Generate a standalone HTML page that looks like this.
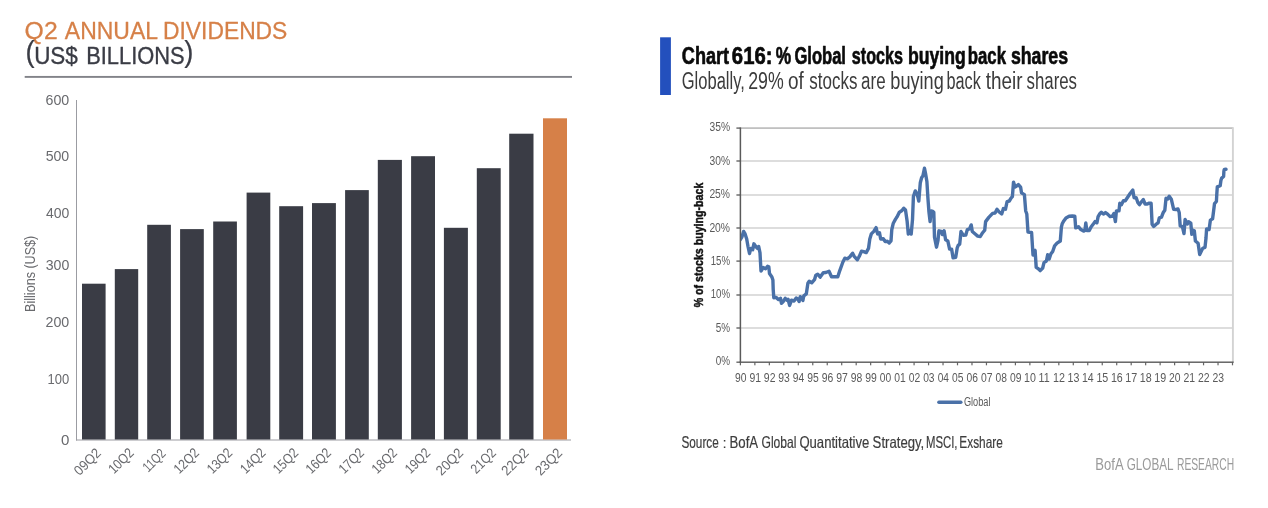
<!DOCTYPE html>
<html lang="en">
<head>
<meta charset="utf-8">
<title>Q2 Annual Dividends and Global Buybacks</title>
<style>
html,body{margin:0;padding:0;background:#ffffff;}
body{width:1268px;height:508px;overflow:hidden;}
svg{display:block;font-family:"Liberation Sans",sans-serif;}
</style>
</head>
<body>
<svg width="1268" height="508" viewBox="0 0 1268 508">
<rect x="0" y="0" width="1268" height="508" fill="#ffffff"/>
<text font-size="24.6" fill="#d68048" stroke="#d68048" stroke-width="0.3" stroke-linejoin="round"><tspan x="24.63" y="39" textLength="33.02" lengthAdjust="spacingAndGlyphs">Q2</tspan> <tspan x="64.86" y="39" textLength="92.3" lengthAdjust="spacingAndGlyphs">ANNUAL</tspan> <tspan x="163.03" y="39" textLength="124.32" lengthAdjust="spacingAndGlyphs">DIVIDENDS</tspan></text>
<text font-size="24.2" fill="#3a3c45" stroke="#3a3c45" stroke-width="0.35" stroke-linejoin="round"><tspan x="25.59" y="62.2" textLength="9.17" lengthAdjust="spacingAndGlyphs" font-size="29" stroke-width="0.2">(</tspan><tspan x="34.17" y="63.7" textLength="43.69" lengthAdjust="spacingAndGlyphs">US$</tspan> <tspan x="86.21" y="63.7" textLength="98.4" lengthAdjust="spacingAndGlyphs">BILLIONS</tspan><tspan x="184.34" y="62.2" textLength="9.17" lengthAdjust="spacingAndGlyphs" font-size="29" stroke-width="0.2">)</tspan></text>
<rect x="24.7" y="75.95" width="547.3" height="1.9" fill="#828389"/>
<rect x="76" y="100.0" width="1" height="340.5" fill="#9b9ca2"/>
<rect x="76" y="439.5" width="495" height="1" fill="#9b9ca2"/>
<text transform="translate(60.91 444.7) scale(1.0758 1.0000)" font-size="14" fill="#696a6e">0</text>
<text transform="translate(47.51 383.6) scale(0.9289 1.0000)" font-size="14" fill="#696a6e">100</text>
<text transform="translate(45.48 326.9) scale(1.0178 1.0000)" font-size="14" fill="#696a6e">200</text>
<text transform="translate(45.66 270.3) scale(1.0100 1.0000)" font-size="14" fill="#696a6e">300</text>
<text transform="translate(45.88 218.3) scale(1.0004 1.0000)" font-size="14" fill="#696a6e">400</text>
<text transform="translate(45.63 161.1) scale(1.0112 1.0000)" font-size="14" fill="#696a6e">500</text>
<text transform="translate(45.48 104.8) scale(1.0181 1.0000)" font-size="14" fill="#696a6e">600</text>
<text transform="translate(35.1 310.9) rotate(-90) translate(-1.03 0) scale(0.8999 1)" font-size="14" fill="#696a6e">Billions (US$)</text>
<rect x="82.0" y="283.7" width="23.6" height="155.8" fill="#3a3c45"/>
<rect x="114.8" y="269.1" width="23.4" height="170.4" fill="#3a3c45"/>
<rect x="147.2" y="224.8" width="23.7" height="214.7" fill="#3a3c45"/>
<rect x="180.1" y="229.1" width="23.7" height="210.4" fill="#3a3c45"/>
<rect x="213.2" y="221.5" width="23.7" height="218.0" fill="#3a3c45"/>
<rect x="246.6" y="192.6" width="23.7" height="246.9" fill="#3a3c45"/>
<rect x="279.2" y="206.2" width="23.9" height="233.3" fill="#3a3c45"/>
<rect x="312.0" y="203.1" width="23.9" height="236.4" fill="#3a3c45"/>
<rect x="345.1" y="190.1" width="23.7" height="249.4" fill="#3a3c45"/>
<rect x="377.8" y="159.9" width="24.1" height="279.6" fill="#3a3c45"/>
<rect x="411.1" y="156.2" width="23.9" height="283.3" fill="#3a3c45"/>
<rect x="443.9" y="227.8" width="24.0" height="211.7" fill="#3a3c45"/>
<rect x="476.8" y="168.2" width="23.9" height="271.3" fill="#3a3c45"/>
<rect x="509.2" y="133.7" width="24.3" height="305.8" fill="#3a3c45"/>
<rect x="543.0" y="118.3" width="24.0" height="321.2" fill="#d68048"/>
<text transform="translate(101.5 454.3) rotate(-45) translate(-31.01 0) scale(0.9243 1)" font-size="14" fill="#696a6e">09Q2</text>
<text transform="translate(134.2 454.3) rotate(-45) translate(-28.71 0) scale(0.8560 1)" font-size="14" fill="#696a6e">10Q2</text>
<text transform="translate(166.75 454.3) rotate(-45) translate(-26.03 0) scale(0.7759 1)" font-size="14" fill="#696a6e">11Q2</text>
<text transform="translate(199.65 454.3) rotate(-45) translate(-28.71 0) scale(0.8560 1)" font-size="14" fill="#696a6e">12Q2</text>
<text transform="translate(232.75 454.3) rotate(-45) translate(-28.71 0) scale(0.8560 1)" font-size="14" fill="#696a6e">13Q2</text>
<text transform="translate(266.15 454.3) rotate(-45) translate(-28.71 0) scale(0.8560 1)" font-size="14" fill="#696a6e">14Q2</text>
<text transform="translate(298.85 454.3) rotate(-45) translate(-28.71 0) scale(0.8560 1)" font-size="14" fill="#696a6e">15Q2</text>
<text transform="translate(331.65 454.3) rotate(-45) translate(-28.71 0) scale(0.8560 1)" font-size="14" fill="#696a6e">16Q2</text>
<text transform="translate(364.65 454.3) rotate(-45) translate(-28.71 0) scale(0.8560 1)" font-size="14" fill="#696a6e">17Q2</text>
<text transform="translate(397.55 454.3) rotate(-45) translate(-28.71 0) scale(0.8560 1)" font-size="14" fill="#696a6e">18Q2</text>
<text transform="translate(430.75 454.3) rotate(-45) translate(-28.71 0) scale(0.8560 1)" font-size="14" fill="#696a6e">19Q2</text>
<text transform="translate(463.6 454.3) rotate(-45) translate(-31.15 0) scale(0.9287 1)" font-size="14" fill="#696a6e">20Q2</text>
<text transform="translate(496.45 454.3) rotate(-45) translate(-28.4 0) scale(0.8465 1)" font-size="14" fill="#696a6e">21Q2</text>
<text transform="translate(529.05 454.3) rotate(-45) translate(-31.15 0) scale(0.9287 1)" font-size="14" fill="#696a6e">22Q2</text>
<text transform="translate(562.7 454.3) rotate(-45) translate(-31.15 0) scale(0.9287 1)" font-size="14" fill="#696a6e">23Q2</text>
<rect x="660.1" y="37.3" width="10.8" height="57.7" fill="#2350bd"/>
<text font-size="23" fill="#0a0a0a" font-weight="bold" stroke="#0a0a0a" stroke-width="0.65" stroke-linejoin="round"><tspan x="681.86" y="63.8" textLength="47.26" lengthAdjust="spacingAndGlyphs">Chart</tspan> <tspan x="731.86" y="63.8" textLength="40.59" lengthAdjust="spacingAndGlyphs">616:</tspan> <tspan x="775.77" y="63.8" textLength="15.39" lengthAdjust="spacingAndGlyphs">%</tspan> <tspan x="794.42" y="63.8" textLength="51.55" lengthAdjust="spacingAndGlyphs">Global</tspan> <tspan x="851.83" y="63.8" textLength="51.03" lengthAdjust="spacingAndGlyphs">stocks</tspan> <tspan x="907.94" y="63.8" textLength="57.74" lengthAdjust="spacingAndGlyphs">buying</tspan> <tspan x="967.8" y="63.8" textLength="38.19" lengthAdjust="spacingAndGlyphs">back</tspan> <tspan x="1010.88" y="63.8" textLength="57.15" lengthAdjust="spacingAndGlyphs">shares</tspan></text>
<text font-size="23" fill="#3c3c3c"><tspan x="681.79" y="88.7" textLength="62.97" lengthAdjust="spacingAndGlyphs">Globally,</tspan> <tspan x="748.21" y="88.7" textLength="35.53" lengthAdjust="spacingAndGlyphs">29%</tspan> <tspan x="788.01" y="88.7" textLength="15.77" lengthAdjust="spacingAndGlyphs">of</tspan> <tspan x="809.33" y="88.7" textLength="48.09" lengthAdjust="spacingAndGlyphs">stocks</tspan> <tspan x="861.08" y="88.7" textLength="24.47" lengthAdjust="spacingAndGlyphs">are</tspan> <tspan x="890.33" y="88.7" textLength="53.44" lengthAdjust="spacingAndGlyphs">buying</tspan> <tspan x="946.55" y="88.7" textLength="34.32" lengthAdjust="spacingAndGlyphs">back</tspan> <tspan x="985.71" y="88.7" textLength="36.8" lengthAdjust="spacingAndGlyphs">their</tspan> <tspan x="1026.53" y="88.7" textLength="50.48" lengthAdjust="spacingAndGlyphs">shares</tspan></text>
<rect x="740.4" y="127.25" width="492.5" height="1.7" fill="#bdbdbd"/>
<rect x="740.4" y="160.15" width="492.5" height="1.7" fill="#d8d8d8"/>
<rect x="740.4" y="194.15" width="492.5" height="1.7" fill="#d8d8d8"/>
<rect x="740.4" y="227.15" width="492.5" height="1.7" fill="#d8d8d8"/>
<rect x="740.4" y="260.25" width="492.5" height="1.7" fill="#d8d8d8"/>
<rect x="740.4" y="294.15" width="492.5" height="1.7" fill="#d8d8d8"/>
<rect x="740.4" y="327.15" width="492.5" height="1.7" fill="#d8d8d8"/>
<rect x="1231.95" y="127.2" width="1.9" height="235" fill="#d3d3d3"/>
<rect x="736.4" y="127.4" width="4" height="1.4" fill="#666"/>
<text transform="translate(709.51 131) scale(0.7901 1.0000)" font-size="13" fill="#5a5a5a">35%</text>
<rect x="736.4" y="160.3" width="4" height="1.4" fill="#666"/>
<text transform="translate(709.51 164.6) scale(0.7901 1.0000)" font-size="13" fill="#5a5a5a">30%</text>
<rect x="736.4" y="194.3" width="4" height="1.4" fill="#666"/>
<text transform="translate(709.38 197.9) scale(0.7951 1.0000)" font-size="13" fill="#5a5a5a">25%</text>
<rect x="736.4" y="227.3" width="4" height="1.4" fill="#666"/>
<text transform="translate(709.38 231.9) scale(0.7951 1.0000)" font-size="13" fill="#5a5a5a">20%</text>
<rect x="736.4" y="260.4" width="4" height="1.4" fill="#666"/>
<text transform="translate(710.66 264.8) scale(0.7449 1.0000)" font-size="13" fill="#5a5a5a">15%</text>
<rect x="736.4" y="294.3" width="4" height="1.4" fill="#666"/>
<text transform="translate(710.66 297.9) scale(0.7449 1.0000)" font-size="13" fill="#5a5a5a">10%</text>
<rect x="736.4" y="327.3" width="4" height="1.4" fill="#666"/>
<text transform="translate(715.7 331.9) scale(0.7638 1.0000)" font-size="13" fill="#5a5a5a">5%</text>
<rect x="736.4" y="361.5" width="4" height="1.4" fill="#666"/>
<text transform="translate(715.71 365.1) scale(0.7633 1.0000)" font-size="13" fill="#5a5a5a">0%</text>
<rect x="739.8" y="362.2" width="1.2" height="3.1" fill="#666"/>
<rect x="754.27" y="362.2" width="1.2" height="3.1" fill="#666"/>
<rect x="768.75" y="362.2" width="1.2" height="3.1" fill="#666"/>
<rect x="783.22" y="362.2" width="1.2" height="3.1" fill="#666"/>
<rect x="797.69" y="362.2" width="1.2" height="3.1" fill="#666"/>
<rect x="812.17" y="362.2" width="1.2" height="3.1" fill="#666"/>
<rect x="826.64" y="362.2" width="1.2" height="3.1" fill="#666"/>
<rect x="841.11" y="362.2" width="1.2" height="3.1" fill="#666"/>
<rect x="855.59" y="362.2" width="1.2" height="3.1" fill="#666"/>
<rect x="870.06" y="362.2" width="1.2" height="3.1" fill="#666"/>
<rect x="884.54" y="362.2" width="1.2" height="3.1" fill="#666"/>
<rect x="899.01" y="362.2" width="1.2" height="3.1" fill="#666"/>
<rect x="913.48" y="362.2" width="1.2" height="3.1" fill="#666"/>
<rect x="927.96" y="362.2" width="1.2" height="3.1" fill="#666"/>
<rect x="942.43" y="362.2" width="1.2" height="3.1" fill="#666"/>
<rect x="956.9" y="362.2" width="1.2" height="3.1" fill="#666"/>
<rect x="971.38" y="362.2" width="1.2" height="3.1" fill="#666"/>
<rect x="985.85" y="362.2" width="1.2" height="3.1" fill="#666"/>
<rect x="1000.32" y="362.2" width="1.2" height="3.1" fill="#666"/>
<rect x="1014.8" y="362.2" width="1.2" height="3.1" fill="#666"/>
<rect x="1029.27" y="362.2" width="1.2" height="3.1" fill="#666"/>
<rect x="1043.74" y="362.2" width="1.2" height="3.1" fill="#666"/>
<rect x="1058.22" y="362.2" width="1.2" height="3.1" fill="#666"/>
<rect x="1072.69" y="362.2" width="1.2" height="3.1" fill="#666"/>
<rect x="1087.16" y="362.2" width="1.2" height="3.1" fill="#666"/>
<rect x="1101.64" y="362.2" width="1.2" height="3.1" fill="#666"/>
<rect x="1116.11" y="362.2" width="1.2" height="3.1" fill="#666"/>
<rect x="1130.59" y="362.2" width="1.2" height="3.1" fill="#666"/>
<rect x="1145.06" y="362.2" width="1.2" height="3.1" fill="#666"/>
<rect x="1159.53" y="362.2" width="1.2" height="3.1" fill="#666"/>
<rect x="1174.01" y="362.2" width="1.2" height="3.1" fill="#666"/>
<rect x="1188.48" y="362.2" width="1.2" height="3.1" fill="#666"/>
<rect x="1202.95" y="362.2" width="1.2" height="3.1" fill="#666"/>
<rect x="1217.43" y="362.2" width="1.2" height="3.1" fill="#666"/>
<rect x="1231.9" y="362.2" width="1.2" height="3.1" fill="#666"/>
<text transform="translate(734.92 382) scale(0.7765 1.0000)" font-size="13.3" fill="#5a5a5a">90</text>
<text transform="translate(749.38 382) scale(0.7840 1.0000)" font-size="13.3" fill="#5a5a5a">91</text>
<text transform="translate(763.86 382) scale(0.7851 1.0000)" font-size="13.3" fill="#5a5a5a">92</text>
<text transform="translate(778.33 382) scale(0.7802 1.0000)" font-size="13.3" fill="#5a5a5a">93</text>
<text transform="translate(792.81 382) scale(0.7692 1.0000)" font-size="13.3" fill="#5a5a5a">94</text>
<text transform="translate(807.28 382) scale(0.7787 1.0000)" font-size="13.3" fill="#5a5a5a">95</text>
<text transform="translate(821.75 382) scale(0.7802 1.0000)" font-size="13.3" fill="#5a5a5a">96</text>
<text transform="translate(836.23 382) scale(0.7851 1.0000)" font-size="13.3" fill="#5a5a5a">97</text>
<text transform="translate(850.7 382) scale(0.7799 1.0000)" font-size="13.3" fill="#5a5a5a">98</text>
<text transform="translate(865.17 382) scale(0.7828 1.0000)" font-size="13.3" fill="#5a5a5a">99</text>
<text transform="translate(879.73 382) scale(0.7707 1.0000)" font-size="13.3" fill="#5a5a5a">00</text>
<text transform="translate(894.2 382) scale(0.7780 1.0000)" font-size="13.3" fill="#5a5a5a">01</text>
<text transform="translate(908.68 382) scale(0.7791 1.0000)" font-size="13.3" fill="#5a5a5a">02</text>
<text transform="translate(923.15 382) scale(0.7743 1.0000)" font-size="13.3" fill="#5a5a5a">03</text>
<text transform="translate(937.63 382) scale(0.7634 1.0000)" font-size="13.3" fill="#5a5a5a">04</text>
<text transform="translate(952.1 382) scale(0.7728 1.0000)" font-size="13.3" fill="#5a5a5a">05</text>
<text transform="translate(966.57 382) scale(0.7743 1.0000)" font-size="13.3" fill="#5a5a5a">06</text>
<text transform="translate(981.05 382) scale(0.7791 1.0000)" font-size="13.3" fill="#5a5a5a">07</text>
<text transform="translate(995.52 382) scale(0.7739 1.0000)" font-size="13.3" fill="#5a5a5a">08</text>
<text transform="translate(1009.99 382) scale(0.7769 1.0000)" font-size="13.3" fill="#5a5a5a">09</text>
<text transform="translate(1024.06 382) scale(0.7993 1.0000)" font-size="13.3" fill="#5a5a5a">10</text>
<text transform="translate(1038.53 382) scale(0.8072 1.0000)" font-size="13.3" fill="#5a5a5a">11</text>
<text transform="translate(1053 382) scale(0.8084 1.0000)" font-size="13.3" fill="#5a5a5a">12</text>
<text transform="translate(1067.48 382) scale(0.8033 1.0000)" font-size="13.3" fill="#5a5a5a">13</text>
<text transform="translate(1081.96 382) scale(0.7916 1.0000)" font-size="13.3" fill="#5a5a5a">14</text>
<text transform="translate(1096.43 382) scale(0.8017 1.0000)" font-size="13.3" fill="#5a5a5a">15</text>
<text transform="translate(1110.9 382) scale(0.8033 1.0000)" font-size="13.3" fill="#5a5a5a">16</text>
<text transform="translate(1125.37 382) scale(0.8084 1.0000)" font-size="13.3" fill="#5a5a5a">17</text>
<text transform="translate(1139.85 382) scale(0.8029 1.0000)" font-size="13.3" fill="#5a5a5a">18</text>
<text transform="translate(1154.32 382) scale(0.8060 1.0000)" font-size="13.3" fill="#5a5a5a">19</text>
<text transform="translate(1169.08 382) scale(0.7791 1.0000)" font-size="13.3" fill="#5a5a5a">20</text>
<text transform="translate(1183.55 382) scale(0.7866 1.0000)" font-size="13.3" fill="#5a5a5a">21</text>
<text transform="translate(1198.03 382) scale(0.7878 1.0000)" font-size="13.3" fill="#5a5a5a">22</text>
<text transform="translate(1212.5 382) scale(0.7828 1.0000)" font-size="13.3" fill="#5a5a5a">23</text>
<text transform="translate(703.2 307.1) rotate(-90) translate(-0.26 0) scale(0.8445 1)" font-size="12.6" fill="#111" font-weight="bold" stroke="#111" stroke-width="0.45" stroke-linejoin="round">% of stocks buying-back</text>
<clipPath id="plotclip"><rect x="740.8" y="128.1" width="492.1" height="234.1"/></clipPath>
<path d="M739.0,240.6 L740.3,239.6 L741.9,237.1 L743.6,231.4 L745.1,233.9 L746.7,239.0 L748.0,246.5 L749.5,253.5 L750.8,248.4 L752.7,249.7 L753.9,243.8 L755.8,246.5 L757.5,248.4 L758.7,246.5 L760.0,252.9 L761.0,271.0 L763.2,267.5 L765.6,268.7 L767.6,266.2 L768.8,266.7 L769.5,273.5 L771.9,277.0 L772.9,280.0 L773.2,289.5 L773.8,297.7 L776.0,297.4 L778.6,299.6 L780.5,298.3 L781.5,303.3 L783.3,301.5 L785.2,298.3 L786.8,300.2 L788.0,299.2 L789.6,305.4 L791.5,300.2 L794.0,301.1 L796.2,298.0 L797.8,298.9 L799.1,301.5 L800.3,296.7 L801.6,298.3 L802.9,300.5 L803.8,295.8 L806.3,293.9 L807.9,283.2 L809.2,281.3 L811.7,282.8 L814.5,279.7 L815.8,275.2 L817.7,274.2 L820.2,277.1 L823.3,272.7 L825.9,272.5 L829.0,271.2 L831.5,276.8 L834.7,276.8 L837.8,276.8 L839.7,270.8 L842.9,262.0 L844.8,258.2 L847.3,258.8 L849.8,256.9 L852.6,253.2 L854.2,256.3 L857.4,259.8 L859.3,256.3 L861.5,251.1 L863.7,251.6 L866.2,252.6 L868.5,248.4 L869.8,239.0 L871.3,233.9 L873.8,231.4 L876.1,227.6 L877.6,233.9 L879.5,232.7 L880.7,239.0 L883.3,238.7 L885.2,241.6 L887.3,241.3 L889.2,243.0 L891.0,240.8 L891.8,229.5 L893.3,223.2 L895.4,219.4 L897.0,216.9 L899.2,212.4 L902.0,210.5 L903.7,208.2 L905.5,210.0 L907.1,221.0 L908.3,234.0 L910.2,230.2 L911.2,234.0 L912.5,219.7 L913.4,196.6 L915.3,190.9 L917.2,194.1 L918.8,201.0 L920.3,182.7 L921.6,177.7 L922.9,175.8 L924.5,168.2 L925.6,173.9 L926.9,181.5 L927.9,197.9 L928.9,211.5 L930.1,221.6 L931.1,210.9 L932.3,211.1 L933.8,212.4 L934.5,237.1 L936.5,247.2 L938.0,240.3 L938.9,230.8 L941.2,231.5 L942.4,234.6 L944.1,230.8 L945.6,239.7 L947.8,240.9 L949.6,249.1 L951.6,249.1 L953.1,257.9 L955.7,257.3 L957.2,247.9 L958.2,245.3 L959.7,244.1 L961.0,231.5 L963.2,235.2 L965.8,235.0 L967.3,229.6 L969.5,228.9 L971.2,224.9 L972.3,231.5 L975.2,234.0 L977.7,236.1 L980.3,236.5 L982.2,233.3 L984.7,230.2 L985.6,221.6 L988.8,217.4 L992.6,213.4 L995.1,213.0 L997.0,209.2 L999.2,212.0 L1001.7,214.0 L1003.4,208.6 L1005.5,209.2 L1007.1,201.6 L1009.3,201.0 L1011.2,197.9 L1012.4,196.6 L1013.5,182.1 L1015.0,187.1 L1016.9,185.9 L1018.4,184.6 L1020.6,187.1 L1021.5,192.8 L1024.4,194.7 L1025.7,211.0 L1026.8,214.0 L1028.0,232.1 L1031.6,232.5 L1033.0,255.0 L1034.0,251.6 L1035.1,250.4 L1036.2,267.4 L1038.3,268.7 L1040.2,270.6 L1042.7,268.0 L1044.0,262.6 L1046.4,261.0 L1047.7,254.7 L1049.2,259.1 L1050.8,254.1 L1052.7,251.5 L1054.6,245.9 L1057.0,243.2 L1060.3,241.0 L1061.4,227.0 L1062.2,223.8 L1063.4,221.6 L1066.0,217.9 L1069.1,216.2 L1072.3,216.0 L1074.8,216.2 L1075.7,227.9 L1078.6,226.7 L1080.5,229.2 L1083.6,231.1 L1084.9,230.5 L1085.8,222.9 L1086.8,230.5 L1089.3,230.5 L1091.2,226.7 L1093.7,223.5 L1095.0,221.6 L1096.9,222.9 L1098.1,216.6 L1100.0,213.4 L1101.3,212.2 L1103.4,214.1 L1105.5,212.6 L1107.6,214.1 L1110.1,216.6 L1112.6,216.0 L1113.9,213.4 L1115.4,221.6 L1116.4,210.9 L1119.0,210.9 L1119.8,203.3 L1121.5,204.6 L1123.4,200.8 L1125.3,200.8 L1127.8,197.0 L1130.3,193.2 L1132.8,190.1 L1134.1,197.7 L1136.2,197.7 L1137.9,202.7 L1139.5,204.6 L1141.7,201.5 L1143.3,199.6 L1145.1,204.0 L1147.3,204.0 L1149.2,203.1 L1151.1,203.3 L1152.1,224.2 L1153.7,226.4 L1156.2,224.2 L1158.1,222.9 L1159.3,217.9 L1161.5,217.2 L1163.1,212.8 L1164.8,210.3 L1166.0,198.3 L1167.8,198.9 L1169.2,196.2 L1171.3,199.2 L1173.6,209.2 L1176.1,209.5 L1178.0,209.0 L1179.2,212.5 L1180.2,225.8 L1182.4,226.6 L1184.0,233.5 L1185.1,219.5 L1187.4,223.9 L1188.6,221.7 L1190.8,223.2 L1191.8,234.3 L1193.0,230.2 L1194.3,230.8 L1195.4,241.0 L1198.1,243.2 L1199.7,254.6 L1201.5,250.8 L1202.8,248.3 L1205.0,247.4 L1206.0,238.0 L1206.6,228.9 L1209.1,229.6 L1210.4,220.1 L1212.6,218.8 L1213.6,211.0 L1214.5,203.7 L1216.4,201.5 L1216.8,194.0 L1217.3,186.9 L1220.2,185.7 L1220.9,180.5 L1221.7,178.1 L1223.6,176.5 L1223.9,171.2 L1224.3,169.5 L1226.0,169.3" fill="none" stroke="#4a71a8" stroke-width="3.4" stroke-linejoin="round" stroke-linecap="round" clip-path="url(#plotclip)"/>
<rect x="739.65" y="127.4" width="1.5" height="235.5" fill="#5a5a5a"/>
<rect x="739.65" y="361.5" width="494" height="1.4" fill="#5a5a5a"/>
<path d="M938.9,402.3 L960.8,402.3" stroke="#4a71a8" stroke-width="3.5" stroke-linecap="round" fill="none"/>
<text transform="translate(963.94 406.2) scale(0.6811 1.0000)" font-size="13.5" fill="#5a5a5a">Global</text>
<text font-size="16.5" fill="#3d3d3d" stroke="#3d3d3d" stroke-width="0.2" stroke-linejoin="round"><tspan x="681.47" y="447.7" textLength="37.26" lengthAdjust="spacingAndGlyphs">Source</tspan> <tspan x="722.7" y="447.7" textLength="3.66" lengthAdjust="spacingAndGlyphs" font-size="15.5">:</tspan> <tspan x="729.55" y="447.7" textLength="27.88" lengthAdjust="spacingAndGlyphs">BofA</tspan> <tspan x="761.49" y="447.7" textLength="34.92" lengthAdjust="spacingAndGlyphs">Global</tspan> <tspan x="799.38" y="447.7" textLength="70" lengthAdjust="spacingAndGlyphs">Quantitative</tspan> <tspan x="872.61" y="447.7" textLength="51.65" lengthAdjust="spacingAndGlyphs">Strategy,</tspan> <tspan x="925.97" y="447.7" textLength="31.55" lengthAdjust="spacingAndGlyphs">MSCI,</tspan> <tspan x="959.33" y="447.7" textLength="43.5" lengthAdjust="spacingAndGlyphs">Exshare</tspan></text>
<text font-size="16.6" fill="#9a9a9a"><tspan x="1095.36" y="470.1" textLength="27.57" lengthAdjust="spacingAndGlyphs">BofA</tspan> <tspan x="1126.72" y="470.1" textLength="46.37" lengthAdjust="spacingAndGlyphs">GLOBAL</tspan> <tspan x="1176.96" y="470.1" textLength="57.18" lengthAdjust="spacingAndGlyphs">RESEARCH</tspan></text>
</svg>
</body>
</html>
